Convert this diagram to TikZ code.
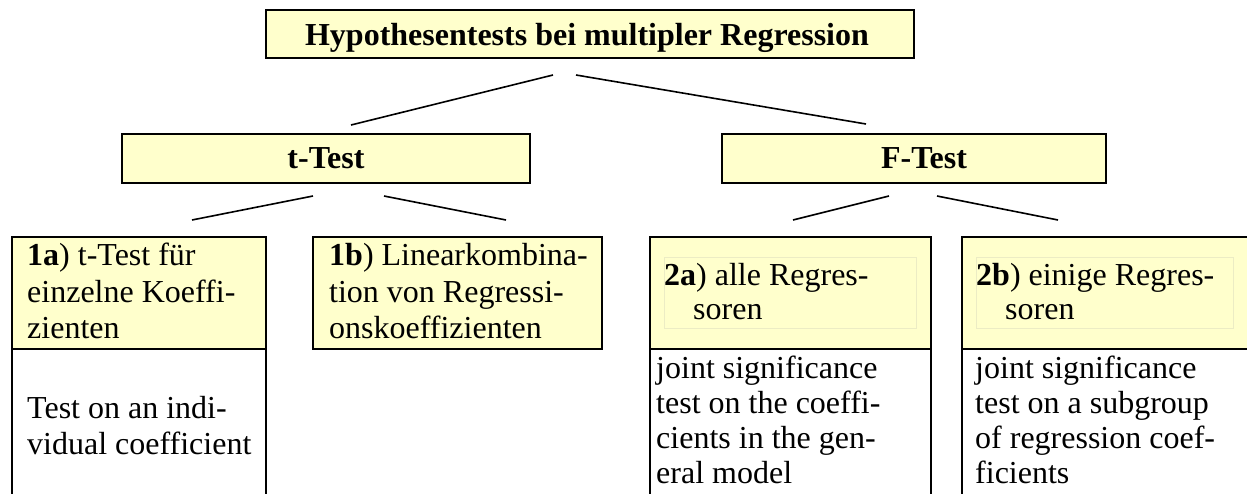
\documentclass[tikz,border=0pt]{standalone}
\usepackage{fontspec}
\setmainfont{Liberation Serif}
\definecolor{boxyellow}{RGB}{255,255,204}
\definecolor{innerline}{RGB}{236,236,196}
\begin{document}
\begin{tikzpicture}[x=1pt,y=-1pt,
  ybox/.style={draw=black, line width=2.1pt, fill=boxyellow, inner sep=0pt, anchor=north west},
  wbox/.style={draw=black, line width=2.1pt, fill=white, inner sep=0pt, anchor=north west},
  txt/.style={inner sep=0pt, anchor=base west, font=\fontsize{32}{36.8}\selectfont},
  head/.style={inner sep=0pt, anchor=base, font=\fontsize{32}{36.8}\selectfont\bfseries},
  conn/.style={draw=black, line width=1.6pt},
  faint/.style={draw=innerline, line width=0.7pt}]
\useasboundingbox (0,0) rectangle (1247,493);
\begin{scope}
\clip (0,0) rectangle (1247,493);
% boxes
\node[ybox, minimum width=648pt, minimum height=48pt] (title) at (265,9) {};
\node[ybox, minimum width=408pt, minimum height=49pt] (ttest) at (121,133) {};
\node[ybox, minimum width=384pt, minimum height=49pt] (ftest) at (721,133) {};
\node[wbox, minimum width=254pt, minimum height=180pt] (b1alow) at (11,348) {};
\node[ybox, minimum width=254pt, minimum height=112pt] (b1a) at (11,236) {};
\node[ybox, minimum width=289pt, minimum height=112pt] (b1b) at (312,236) {};
\node[wbox, minimum width=281pt, minimum height=180pt] (b2alow) at (649,348) {};
\node[ybox, minimum width=281pt, minimum height=112pt] (b2a) at (649,236) {};
\node[wbox, minimum width=320pt, minimum height=180pt] (b2blow) at (961,348) {};
\node[ybox, minimum width=320pt, minimum height=112pt] (b2b) at (961,236) {};
% faint inner frames
\node[faint, inner sep=0pt, anchor=north west, minimum width=252pt, minimum height=71pt] (f2a) at (664,257) {};
\node[faint, inner sep=0pt, anchor=north west, minimum width=257pt, minimum height=71pt] (f2b) at (976,257) {};
% headings
\node[head] (titletext) at (587,45) {Hypothesentests bei multipler Regression};
\node[head] (ttesttext) at (326,168) {t-Test};
\node[head] (ftesttext) at (924,168) {F-Test};
% 1a
\node[txt] (a1) at (27,265) {\textbf{1a}) t-Test für};
\node[txt] (a2) at (27,302) {einzelne Koeffi-};
\node[txt] (a3) at (27,338) {zienten};
\node[txt] (a4) at (27,418) {Test on an indi-};
\node[txt] (a5) at (27,454) {vidual coefficient};
% 1b
\node[txt] (bb1) at (329,265) {\textbf{1b}) Linearkombina-};
\node[txt] (bb2) at (329,302) {tion von Regressi-};
\node[txt] (bb3) at (329,338) {onskoeffizienten};
% 2a
\node[txt] (c1) at (664,285) {\textbf{2a}) alle Regres-};
\node[txt] (c2) at (693,319) {soren};
\node[txt] (c3) at (656,378) {joint significance};
\node[txt] (c4) at (656,413) {test on the coeffi-};
\node[txt] (c5) at (656,448) {cients in the gen-};
\node[txt] (c6) at (656,483) {eral model};
% 2b
\node[txt] (d1) at (976,285) {\textbf{2b}) einige Regres-};
\node[txt] (d2) at (1005,319) {soren};
\node[txt] (d3) at (975,378) {joint significance};
\node[txt] (d4) at (975,413) {test on a subgroup};
\node[txt] (d5) at (975,448) {of regression coef-};
\node[txt] (d6) at (975,483) {ficients};
% connectors
\coordinate (p1s) at (553,75);  \coordinate (p1e) at (351,125);
\coordinate (p2s) at (576,75);  \coordinate (p2e) at (866,124);
\coordinate (p3s) at (313,196); \coordinate (p3e) at (192,220);
\coordinate (p4s) at (384,196); \coordinate (p4e) at (506,220);
\coordinate (p5s) at (889,196); \coordinate (p5e) at (793,220);
\coordinate (p6s) at (937,196); \coordinate (p6e) at (1058,220);
\draw[conn] (p1s) -- (p1e);
\draw[conn] (p2s) -- (p2e);
\draw[conn] (p3s) -- (p3e);
\draw[conn] (p4s) -- (p4e);
\draw[conn] (p5s) -- (p5e);
\draw[conn] (p6s) -- (p6e);
\end{scope}
\end{tikzpicture}
\end{document}
